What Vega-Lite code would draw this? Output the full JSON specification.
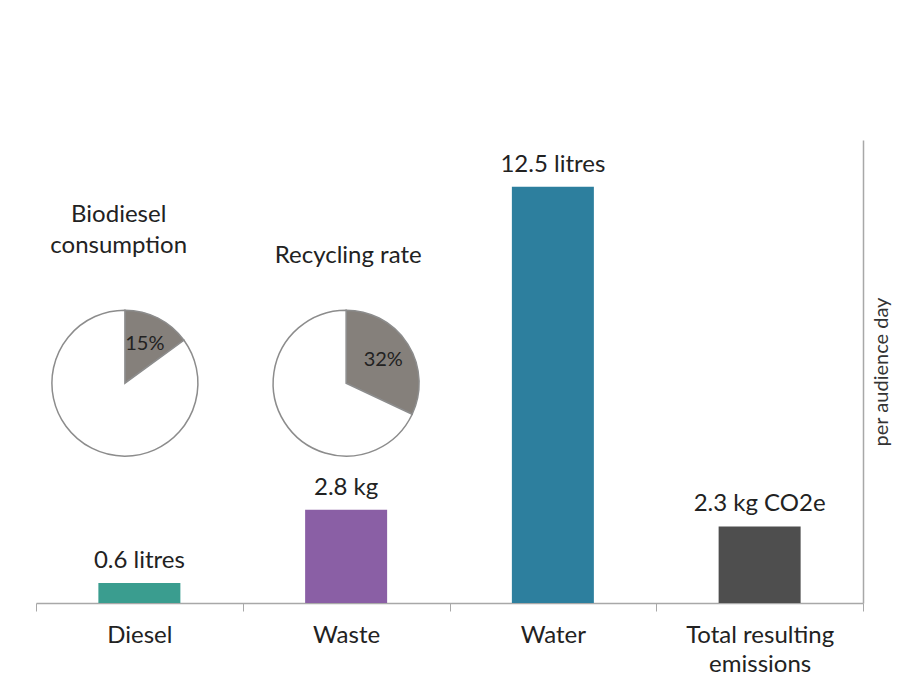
{
  "$schema": "https://vega.github.io/schema/vega-lite/v6.json",
  "width": 827,
  "height": 463,
  "padding": {"left": 35, "top": 140, "right": 5, "bottom": 5},
  "background": "#ffffff",
  "config": {
    "view": {"stroke": null},
    "font": "Lato",
    "text": {"font": "Lato", "fontSize": 24, "color": "#222222"}
  },
  "datasets": {
    "bars": [
      {"metric": "Diesel", "value": 0.6, "label": "0.6 litres"},
      {"metric": "Waste", "value": 2.8, "label": "2.8 kg"},
      {"metric": "Water", "value": 12.5, "label": "12.5 litres"},
      {"metric": "Total resulting emissions", "value": 2.3, "label": "2.3 kg CO2e"}
    ],
    "pies": [
      {"metric": "Diesel", "pie": "biodiesel", "part": "share", "pct": 15, "order": 1, "pctLabel": "15%", "title": ["Biodiesel", "consumption"]},
      {"metric": "Diesel", "pie": "biodiesel", "part": "rest", "pct": 85, "order": 2, "pctLabel": "", "title": ["Biodiesel", "consumption"]},
      {"metric": "Waste", "pie": "recycling", "part": "share", "pct": 32, "order": 1, "pctLabel": "32%", "title": ["Recycling rate"]},
      {"metric": "Waste", "pie": "recycling", "part": "rest", "pct": 68, "order": 2, "pctLabel": "", "title": ["Recycling rate"]}
    ]
  },
  "layer": [
    {
      "data": {"name": "bars"},
      "mark": {"type": "bar", "size": 82},
      "encoding": {
        "x": {
          "field": "metric",
          "type": "nominal",
          "sort": null,
          "scale": {"domain": ["Diesel", "Waste", "Water", "Total resulting emissions"], "paddingInner": 0, "paddingOuter": 0},
          "axis": {
            "title": null,
            "labelAngle": 0,
            "tickBand": "extent",
            "ticks": true,
            "tickSize": 8,
            "tickColor": "#a8a8a8",
            "domainColor": "#a8a8a8",
            "domainWidth": 1.5,
            "labelFont": "Lato",
            "labelFontSize": 24,
            "labelColor": "#222222",
            "labelPadding": 12,
            "labelLineHeight": 29,
            "labelExpr": "datum.label == 'Total resulting emissions' ? ['Total resulting', 'emissions'] : datum.label"
          }
        },
        "y": {
          "field": "value",
          "type": "quantitative",
          "scale": {"domain": [0, 13.9], "nice": false, "zero": true},
          "axis": {
            "orient": "right",
            "title": "per audience day",
            "titleAngle": 270,
            "titleBaseline": "top",
            "titlePadding": 8,
            "titleFont": "Lato",
            "titleFontSize": 20,
            "titleFontWeight": "normal",
            "titleColor": "#333333",
            "ticks": false,
            "labels": false,
            "grid": false,
            "domainColor": "#a8a8a8",
            "domainWidth": 1.5
          }
        },
        "color": {
          "field": "metric",
          "type": "nominal",
          "scale": {"domain": ["Diesel", "Waste", "Water", "Total resulting emissions"], "range": ["#3a9d8f", "#8a5fa5", "#2d7f9e", "#4e4e4e"]},
          "legend": null
        }
      }
    },
    {
      "data": {"name": "bars"},
      "mark": {"type": "text", "baseline": "alphabetic", "dy": -15, "fontSize": 24, "color": "#222222"},
      "encoding": {
        "x": {"field": "metric", "type": "nominal"},
        "y": {"field": "value", "type": "quantitative"},
        "text": {"field": "label"}
      }
    },
    {
      "data": {"name": "pies"},
      "transform": [{"filter": "datum.pie == 'biodiesel'"}],
      "resolve": {"scale": {"theta": "independent"}},
      "layer": [
        {
          "transform": [{"stack": "pct", "groupby": ["pie"], "sort": [{"field": "order"}], "as": ["t0", "t1"]}],
          "mark": {"type": "arc", "outerRadius": 73, "stroke": "#8c8c8c", "strokeWidth": 1.5},
          "encoding": {
            "x": {"field": "metric", "type": "nominal", "bandPosition": 0.43},
            "y": {"datum": 6.6, "type": "quantitative", "stack": null},
            "theta": {"field": "t0", "type": "quantitative", "scale": {"domain": [0, 100], "range": [0, 6.2832]}},
            "theta2": {"field": "t1"},
            "color": {"condition": {"test": "datum.part == 'share'", "value": "#85807b"}, "value": "#ffffff"}
          }
        },
        {
          "transform": [{"filter": "datum.part == 'share'"}],
          "mark": {"type": "text", "radius": 44, "fontSize": 20, "color": "#222222", "baseline": "middle"},
          "encoding": {
            "x": {"field": "metric", "type": "nominal", "bandPosition": 0.43},
            "y": {"datum": 6.6, "type": "quantitative", "stack": null},
            "theta": {"field": "pct", "type": "quantitative", "scale": {"domain": [0, 100], "range": [0, 3.1416]}},
            "text": {"field": "pctLabel"}
          }
        },
        {
          "transform": [{"filter": "datum.part == 'share'"}],
          "mark": {"type": "text", "fontSize": 24, "color": "#222222", "baseline": "alphabetic", "lineHeight": 31},
          "encoding": {
            "x": {"field": "metric", "type": "nominal", "bandPosition": 0.4},
            "y": {"datum": 11.44, "type": "quantitative", "stack": null},
            "text": {"field": "title"}
          }
        }
      ]
    },
    {
      "data": {"name": "pies"},
      "transform": [{"filter": "datum.pie == 'recycling'"}],
      "resolve": {"scale": {"theta": "independent"}},
      "layer": [
        {
          "transform": [{"stack": "pct", "groupby": ["pie"], "sort": [{"field": "order"}], "as": ["t0", "t1"]}],
          "mark": {"type": "arc", "outerRadius": 73, "stroke": "#8c8c8c", "strokeWidth": 1.5},
          "encoding": {
            "x": {"field": "metric", "type": "nominal", "bandPosition": 0.5},
            "y": {"datum": 6.6, "type": "quantitative", "stack": null},
            "theta": {"field": "t0", "type": "quantitative", "scale": {"domain": [0, 100], "range": [0, 6.2832]}},
            "theta2": {"field": "t1"},
            "color": {"condition": {"test": "datum.part == 'share'", "value": "#85807b"}, "value": "#ffffff"}
          }
        },
        {
          "transform": [{"filter": "datum.part == 'share'"}],
          "mark": {"type": "text", "radius": 44, "fontSize": 20, "color": "#222222", "baseline": "middle"},
          "encoding": {
            "x": {"field": "metric", "type": "nominal", "bandPosition": 0.5},
            "y": {"datum": 6.6, "type": "quantitative", "stack": null},
            "theta": {"field": "pct", "type": "quantitative", "scale": {"domain": [0, 100], "range": [0, 3.1416]}},
            "text": {"field": "pctLabel"}
          }
        },
        {
          "transform": [{"filter": "datum.part == 'share'"}],
          "mark": {"type": "text", "fontSize": 24, "color": "#222222", "baseline": "alphabetic"},
          "encoding": {
            "x": {"field": "metric", "type": "nominal", "bandPosition": 0.51},
            "y": {"datum": 10.2, "type": "quantitative", "stack": null},
            "text": {"field": "title"}
          }
        }
      ]
    }
  ],
  "resolve": {"scale": {"theta": "independent"}}
}
